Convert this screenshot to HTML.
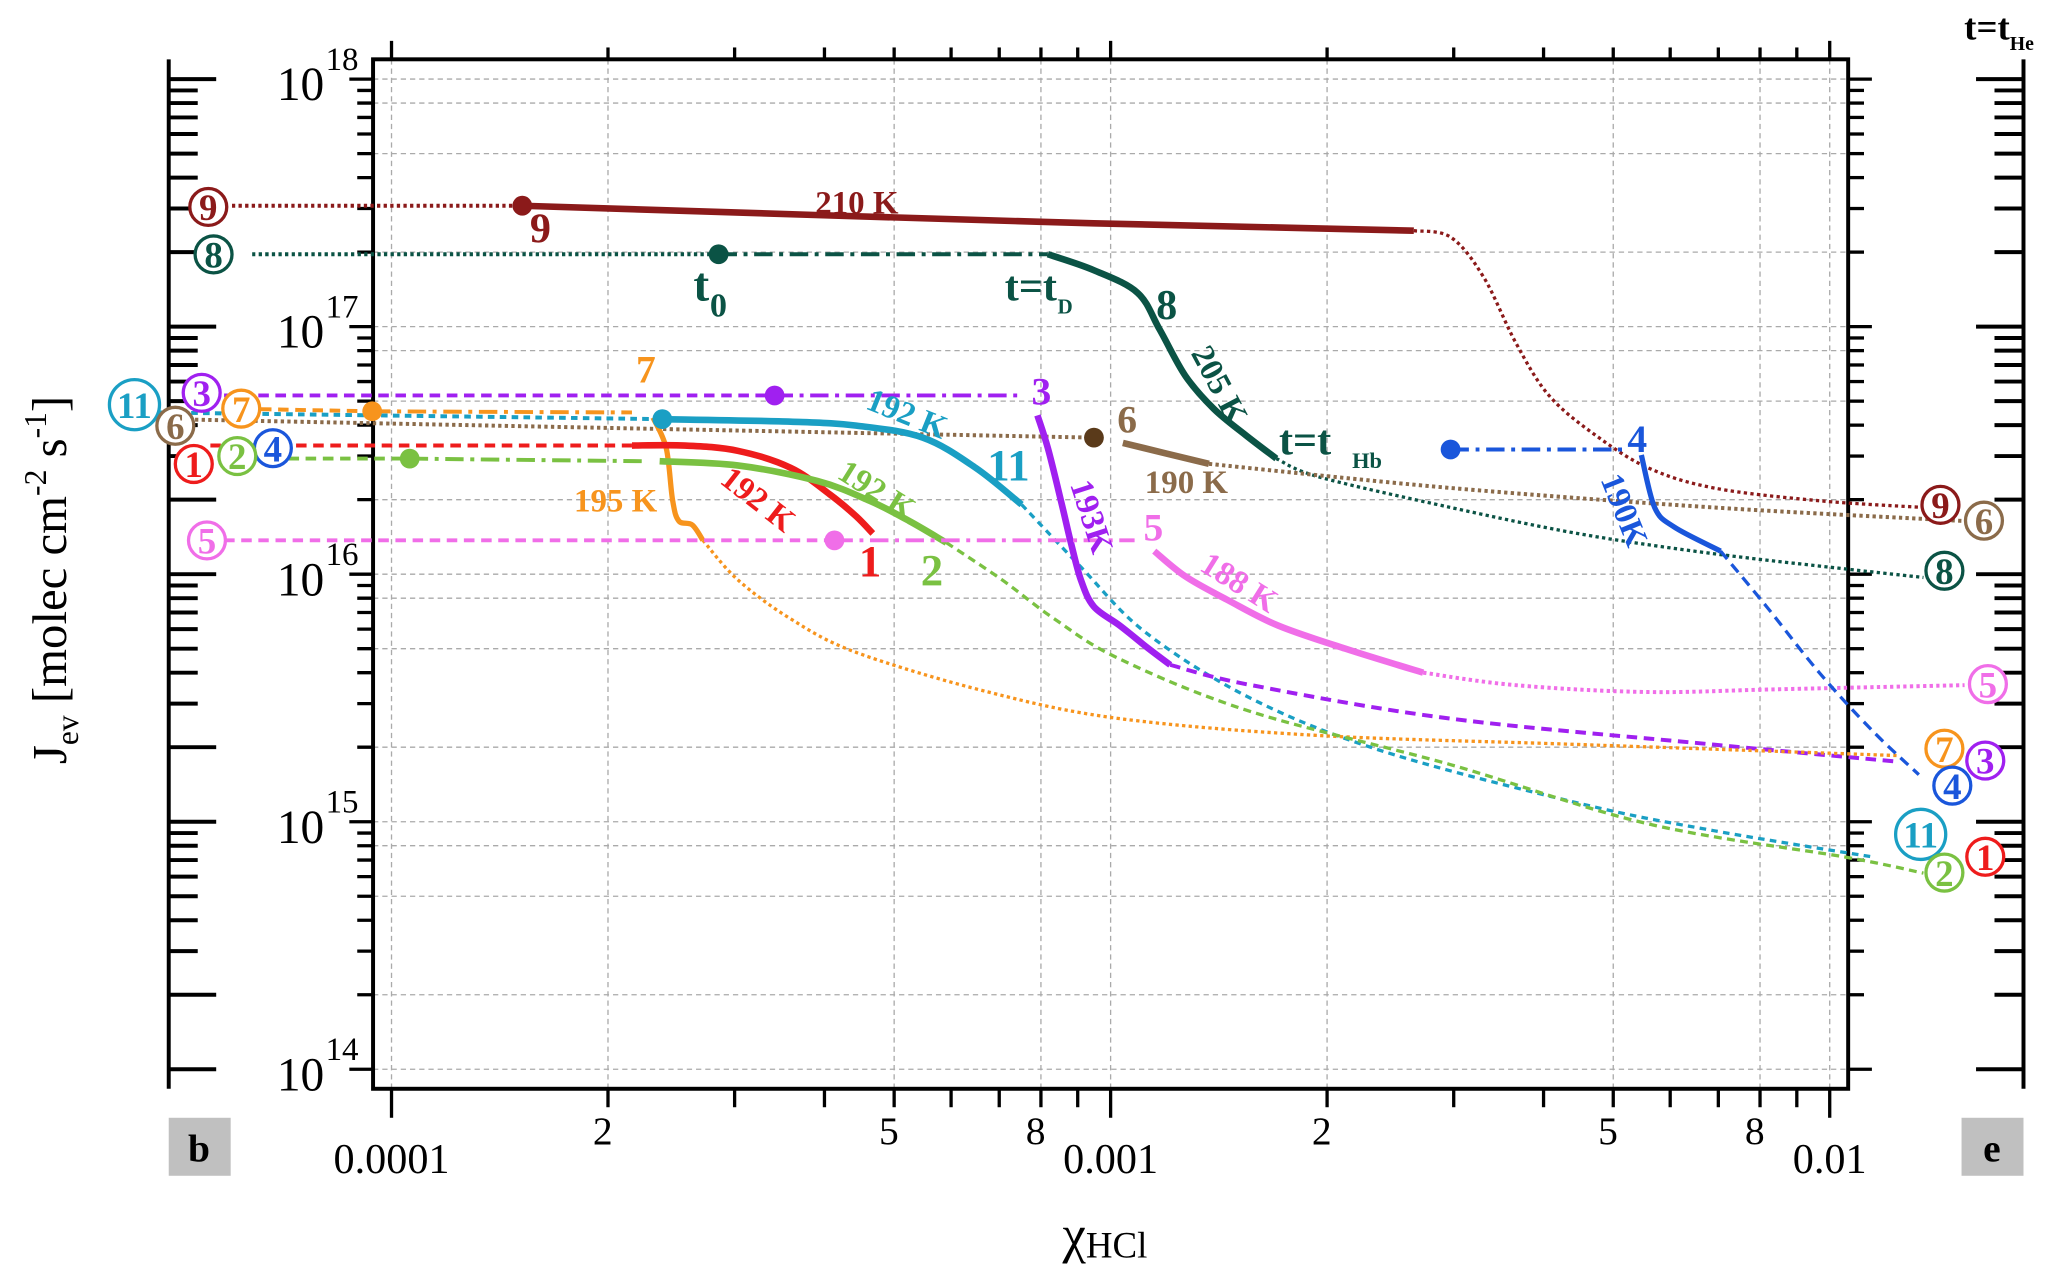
<!DOCTYPE html>
<html><head><meta charset="utf-8"><style>
html,body{margin:0;padding:0;background:#fff;}
svg{display:block;}
text{font-family:"Liberation Serif",serif;}
</style></head><body>
<svg id="chart" width="2067" height="1272" viewBox="0 0 1568 965" preserveAspectRatio="none" xmlns="http://www.w3.org/2000/svg">
<g id="grid"></g>
<g id="axes"></g>
<g id="series"></g>
<g id="ann"></g>
</svg>
<script>
// ---- data (x = mixing ratio chi_HCl, y = J_ev) ----
const c9LeadX=[6.0e-5,1.52e-4]; const c9LeadY=[3.08e17,3.08e17];
const c9SolidX=[1.52e-4,8e-4,2.64e-3]; const c9SolidY=[3.08e17,2.65e17,2.44e17];
const c9TailX=[2.64e-3,2.97e-3,3.30e-3,3.66e-3,4.07e-3,4.72e-3,5.59e-3,6.90e-3,9.67e-3,1.35e-2];
const c9TailY=[2.44e17,2.30e17,1.59e17,8.6e16,5.27e16,3.65e16,2.69e16,2.23e16,1.98e16,1.86e16];

const c8LeadX=[6.4e-5,2.85e-4]; const c8LeadY=[1.96e17,1.96e17];
const c8DashX=[2.85e-4,8.18e-4]; const c8DashY=[1.96e17,1.96e17];
const c8SolidX=[8.18e-4,9.48e-4,1.09e-3,1.17e-3,1.27e-3,1.39e-3,1.54e-3,1.70e-3];
const c8SolidY=[1.96e17,1.69e17,1.37e17,9.73e16,6.34e16,4.67e16,3.65e16,2.93e16];
const c8TailX=[1.70e-3,1.95e-3,2.97e-3,4.52e-3,6.90e-3,1.05e-2,1.35e-2];
const c8TailY=[2.93e16,2.47e16,1.86e16,1.45e16,1.21e16,1.05e16,9.7e15];

const c6LeadX=[4.9e-5,9.48e-4]; const c6LeadY=[4.23e16,3.56e16];
const c6SolidX=[1.04e-3,1.37e-3]; const c6SolidY=[3.39e16,2.79e16];
const c6TailX=[1.37e-3,2.97e-3,6.90e-3,1.54e-2]; const c6TailY=[2.79e16,2.23e16,1.86e16,1.64e16];

const c11LeadX=[4.7e-5,2.38e-4]; const c11LeadY=[4.5e16,4.23e16];
const c11SolidX=[2.38e-4,3.59e-4,4.43e-4,5.48e-4,6.49e-4,7.52e-4];
const c11SolidY=[4.23e16,4.13e16,3.98e16,3.56e16,2.69e16,1.91e16];
const c11TailX=[7.52e-4,9.09e-4,1.12e-3,1.57e-3,2.40e-3,4.52e-3,6.90e-3,1.15e-2];
const c11TailY=[1.91e16,1.07e16,5.8e15,3.14e15,1.92e15,1.18e15,9.2e14,7.2e14];

const c3LeadX=[5.85e-5,3.41e-4]; const c3LeadY=[5.27e16,5.27e16];
const c3DashX=[3.41e-4,7.52e-4]; const c3DashY=[5.27e16,5.27e16];
const c3SolidX=[7.91e-4,8.18e-4,8.53e-4,8.79e-4,9.09e-4,9.48e-4,1.03e-3,1.12e-3,1.21e-3];
const c3SolidY=[4.38e16,3.23e16,1.98e16,1.37e16,9.5e15,7.4e15,6.2e15,5.1e15,4.3e15];
const c3TailX=[1.21e-3,1.57e-3,2.97e-3,6.90e-3,1.24e-2]; const c3TailY=[4.3e15,3.56e15,2.61e15,2.05e15,1.75e15];

const c7LeadX=[5.9e-5,9.4e-5]; const c7LeadY=[4.67e16,4.55e16];
const c7DashX=[9.4e-5,2.16e-4]; const c7DashY=[4.55e16,4.5e16];
const c7SolidX=[2.31e-4,2.41e-4,2.46e-4,2.51e-4,2.62e-4,2.71e-4];
const c7SolidY=[4.29e16,3.23e16,1.98e16,1.64e16,1.58e16,1.37e16];
const c7TailX=[2.71e-4,3.03e-4,3.59e-4,4.43e-4,6.76e-4,1.03e-3,1.95e-3,4.52e-3,1.24e-2];
const c7TailY=[1.37e16,9.5e15,6.6e15,4.83e15,3.34e15,2.61e15,2.23e15,2.05e15,1.85e15];

const c1LeadX=[5.6e-5,2.16e-4]; const c1LeadY=[3.31e16,3.31e16];
const c1SolidX=[2.16e-4,2.56e-4,3.03e-4,3.59e-4,4.07e-4,4.43e-4,4.67e-4];
const c1SolidY=[3.31e16,3.31e16,3.15e16,2.69e16,2.10e16,1.71e16,1.46e16];

const c2LeadX=[6.1e-5,1.06e-4]; const c2LeadY=[2.93e16,2.93e16];
const c2DashX=[1.06e-4,2.26e-4]; const c2DashY=[2.93e16,2.86e16];
const c2SolidX=[2.36e-4,3.03e-4,3.91e-4,4.62e-4,5.25e-4,5.91e-4];
const c2SolidY=[2.86e16,2.75e16,2.38e16,1.98e16,1.64e16,1.34e16];
const c2TailX=[5.91e-4,7.06e-4,8.35e-4,1.03e-3,1.57e-3,2.97e-3,5.59e-3,1.05e-2,1.35e-2];
const c2TailY=[1.34e16,9.5e15,6.6e15,4.54e15,2.78e15,1.70e15,9.8e14,7.2e14,6.2e14];

const c5LeadX=[5.85e-5,4.13e-4]; const c5LeadY=[1.37e16,1.37e16];
const c5DashX=[4.13e-4,1.08e-3]; const c5DashY=[1.37e16,1.37e16];
const c5SolidX=[1.15e-3,1.27e-3,1.45e-3,1.71e-3,2.12e-3,2.72e-3];
const c5SolidY=[1.24e16,9.8e15,7.9e15,6.2e15,5.0e15,4.0e15];
const c5TailX=[2.72e-3,3.66e-3,5.59e-3,8.5e-3,1.54e-2]; const c5TailY=[4.0e15,3.56e15,3.34e15,3.43e15,3.56e15];

const c4DashX=[2.97e-3,5.24e-3]; const c4DashY=[3.19e16,3.19e16];
const c4SolidX=[5.47e-3,5.71e-3,6.08e-3,7.05e-3]; const c4SolidY=[3.03e16,1.86e16,1.55e16,1.24e16];
const c4TailX=[7.05e-3,8.17e-3,9.67e-3,1.15e-2,1.33e-2]; const c4TailY=[1.24e16,7.4e15,4.0e15,2.31e15,1.55e15];

const markerX=[1.52e-4,2.85e-4,9.48e-4,2.38e-4,3.41e-4,9.4e-5,1.06e-4,4.13e-4,2.97e-3];
const markerY=[3.08e17,1.96e17,3.56e16,4.23e16,5.27e16,4.55e16,2.93e16,1.37e16,3.19e16];

const xTickVals=[1e-4,2e-4,3e-4,4e-4,5e-4,6e-4,7e-4,8e-4,9e-4,1e-3,2e-3,3e-3,4e-3,5e-3,6e-3,7e-3,8e-3,9e-3,1e-2];
const xLabelVals=[1e-4,2e-4,5e-4,8e-4,1e-3,2e-3,5e-3,8e-3,1e-2];
const xLabelText=["0.0001","2","5","8","0.001","2","5","8","0.01"];
const yDecades=[14,15,16,17,18];

// ---- scales ----
const X=v=>297+(Math.log10(v)+4)*545.5;
const Y=v=>60+(18-Math.log10(v))*187.8;
const FL=283,FR=1402,FT=45,FB=826;
const NS="http://www.w3.org/2000/svg";
function mk(tag,attrs,parent){const e=document.createElementNS(NS,tag);for(const k in attrs)e.setAttribute(k,attrs[k]);parent.appendChild(e);return e;}
const grid=document.getElementById('grid'),axes=document.getElementById('axes'),ser=document.getElementById('series'),ann=document.getElementById('ann');

// grid
[1e-4,2e-4,5e-4,8e-4,1e-3,2e-3,5e-3,8e-3,1e-2].forEach(v=>{
  const l=mk('line',{x1:X(v),x2:X(v),y1:FT,y2:FB,stroke:'#aaa','stroke-width':1,'stroke-dasharray':'4 3'},grid);
  
  
});
yDecades.forEach(d=>{[1,2,5,8].forEach(m=>{const v=m*Math.pow(10,d);if(v>1.01e18)return;
  const l=mk('line',{x1:FL,x2:FR,y1:Y(v),y2:Y(v),stroke:'#aaa','stroke-width':1,'stroke-dasharray':'4 3'},grid);
  
  
});});

// frame
const fr=mk('rect',{x:FL,y:FT,width:FR-FL,height:FB-FT,fill:'none',stroke:'#000','stroke-width':3},axes);


xTickVals.forEach(v=>{const maj=Math.abs(Math.log10(v)-Math.round(Math.log10(v)))<1e-6;
  const t=mk('line',{x1:X(v),x2:X(v),y1:FB,y2:FB+(maj?22:14),stroke:'#000','stroke-width':2.5},axes);
  
  
  const t2=mk('line',{x1:X(v),x2:X(v),y1:FT,y2:FT-(maj?14:9),stroke:'#000','stroke-width':2.5},axes);
  
  
});
xLabelVals.forEach((v,i)=>{const maj=xLabelText[i].length>1;
  const t=mk('text',{x:X(v)+(maj?0:-4),y:maj?890:868,'font-size':maj?32:30,'text-anchor':'middle'},axes);
  t.textContent=xLabelText[i];
  
  
});
const LA=128,RA=1535;
yDecades.forEach(d=>{for(let m=1;m<=9;m++){const v=m*Math.pow(10,d);if(v>1.01e18)break;const maj=m===1;
  const a=mk('line',{x1:FL,x2:FL-(maj?18:12),y1:Y(v),y2:Y(v),stroke:'#000','stroke-width':2.5},axes);
  
  
  const b=mk('line',{x1:FR,x2:FR+(maj?18:12),y1:Y(v),y2:Y(v),stroke:'#000','stroke-width':2.5},axes);
  
  
  const c=mk('line',{x1:LA,x2:LA+(maj||m===2||m===3&&d===17?36:22),y1:Y(v),y2:Y(v),stroke:'#000','stroke-width':3},axes);
  
  
  const e=mk('line',{x1:RA,x2:RA-(maj?36:22),y1:Y(v),y2:Y(v),stroke:'#000','stroke-width':3},axes);
  
  
}});
yDecades.forEach(d=>{
  const t=mk('text',{x:246,y:Y(Math.pow(10,d))+16,'font-size':36,'text-anchor':'end'},axes);
  t.textContent='10';
  
  
  const s=mk('text',{x:247,y:Y(Math.pow(10,d))-7,'font-size':25,'text-anchor':'start'},axes);
  s.textContent=String(d);
  
  
});
const la=mk('line',{x1:LA,x2:LA,y1:45,y2:826,stroke:'#000','stroke-width':3},axes);


const ra=mk('line',{x1:RA,x2:RA,y1:45,y2:826,stroke:'#000','stroke-width':3},axes);



// series
function path(xs,ys,color,w,dash,name){
  const pts=xs.map((x,i)=>[X(x),Y(ys[i])]);
  let d='M'+pts[0][0].toFixed(1)+' '+pts[0][1].toFixed(1);
  for(let i=1;i<pts.length;i++){
    const p0=pts[Math.max(0,i-2)],p1=pts[i-1],p2=pts[i],p3=pts[Math.min(pts.length-1,i+1)];
    const c1x=p1[0]+(p2[0]-p0[0])/6,c1y=p1[1]+(p2[1]-p0[1])/6,c2x=p2[0]-(p3[0]-p1[0])/6,c2y=p2[1]-(p3[1]-p1[1])/6;
    d+=' C'+c1x.toFixed(1)+' '+c1y.toFixed(1)+' '+c2x.toFixed(1)+' '+c2y.toFixed(1)+' '+p2[0].toFixed(1)+' '+p2[1].toFixed(1);
  }
  const p=mk('path',{d:d,fill:'none',stroke:color,'stroke-width':w,'stroke-linecap':'butt','stroke-linejoin':'round'},ser);
  if(dash)p.setAttribute('stroke-dasharray',dash);
  
  
}
const DOT='2.5 2.5',DASH='8 5',DD='14 5 3 5';
const C={9:'#8b1a1a',8:'#0b5345',6:'#8b6b4a',11:'#1a9fc4',3:'#a020f0',7:'#f7941d',1:'#ee1c1c',2:'#7ac142',5:'#f06ee8',4:'#1a56db'};
path(c9LeadX,c9LeadY,C[9],3,DOT,'curve-9-lead');path(c9SolidX,c9SolidY,C[9],5,null,'curve-9');path(c9TailX,c9TailY,C[9],2.5,DOT,'curve-9-tail');
path(c8LeadX,c8LeadY,C[8],3,DOT,'curve-8-lead');path(c8DashX,c8DashY,C[8],3,DD,'curve-8-dashdot');path(c8SolidX,c8SolidY,C[8],5,null,'curve-8');path(c8TailX,c8TailY,C[8],2.5,DOT,'curve-8-tail');
path(c6LeadX,c6LeadY,C[6],3,DOT,'curve-6-lead');path(c6SolidX,c6SolidY,C[6],5,null,'curve-6');path(c6TailX,c6TailY,C[6],3,DOT,'curve-6-tail');
path(c11LeadX,c11LeadY,C[11],3,'5 4','curve-11-lead');path(c11SolidX,c11SolidY,C[11],5,null,'curve-11');path(c11TailX,c11TailY,C[11],2.5,'5 4','curve-11-tail');
path(c3LeadX,c3LeadY,C[3],3,DASH,'curve-3-lead');path(c3DashX,c3DashY,C[3],3,DD,'curve-3-dashdot');path(c3SolidX,c3SolidY,C[3],5,null,'curve-3');path(c3TailX,c3TailY,C[3],3,DASH,'curve-3-tail');
path(c7LeadX,c7LeadY,C[7],3,DASH,'curve-7-lead');path(c7DashX,c7DashY,C[7],3,DD,'curve-7-dashdot');path(c7SolidX,c7SolidY,C[7],4,null,'curve-7');path(c7TailX,c7TailY,C[7],2.5,DOT,'curve-7-tail');
path(c1LeadX,c1LeadY,C[1],3,DASH,'curve-1-lead');path(c1SolidX,c1SolidY,C[1],5,null,'curve-1');
path(c2LeadX,c2LeadY,C[2],3,DASH,'curve-2-lead');path(c2DashX,c2DashY,C[2],3,DD,'curve-2-dashdot');path(c2SolidX,c2SolidY,C[2],5,null,'curve-2');path(c2TailX,c2TailY,C[2],2.5,'6 4','curve-2-tail');
path(c5LeadX,c5LeadY,C[5],3,DASH,'curve-5-lead');path(c5DashX,c5DashY,C[5],3,DD,'curve-5-dashdot');path(c5SolidX,c5SolidY,C[5],5,null,'curve-5');path(c5TailX,c5TailY,C[5],3,DOT,'curve-5-tail');
path(c4DashX,c4DashY,C[4],3,DD,'curve-4-dashdot');path(c4SolidX,c4SolidY,C[4],4,null,'curve-4');path(c4TailX,c4TailY,C[4],2.5,DASH,'curve-4-tail');
const mc=[C[9],C[8],'#5a3a1a',C[11],C[3],C[7],C[2],C[5],C[4]];
markerX.forEach((x,i)=>{const c=mk('circle',{cx:X(x),cy:Y(markerY[i]),r:7.5,fill:mc[i]},ser);
  
  });

// circled labels
const circ=[[9,158,157],[8,162,193],[11,102,307],[3,153,298],[7,183,310],[6,133,323],[4,207,340],[1,147,352],[2,180,346],[5,157,410],
 [9,1472,383],[6,1505,395],[8,1475,433],[5,1508,519],[7,1475,568],[3,1506,577],[4,1481,596],[11,1457,633],[1,1506,650],[2,1475,662]];
circ.forEach(c=>{const col=C[c[0]];const r=c[0]===11?19:14;
  const g=mk('g',{},ann);
  
  
  mk('circle',{cx:c[1],cy:c[2],r:r,fill:'#fff',stroke:col,'stroke-width':2.5},g);
  const t=mk('text',{x:c[1],y:c[2]+10,'font-size':28,'font-weight':'bold','text-anchor':'middle',fill:col},g);
  t.textContent=String(c[0]);
});
// text labels [text,x,y,color,size,rot]
const labs=[['210 K',650,162,C[9],25,0],['9',410,184,C[9],32,0],['t',532,228,C[8],36,0],['t=t',782,228,C[8],32,0],['8',885,242,C[8],32,0],
 ['205 K',925,300,C[8],25,62],['6',855,328,C[6],30,0],['190 K',900,374,C[6],25,0],['4',1242,343,C[4],30,0],['190K',1232,395,C[4],25,68],
 ['7',490,290,C[7],30,0],['192 K',688,322,C[11],25,22],['11',765,364,C[11],34,0],['3',790,307,C[3],30,0],['193K',828,400,C[3],25,72],
 ['5',875,410,C[5],30,0],['188 K',940,450,C[5],25,32],['195 K',467,388,C[7],25,0],['192 K',575,387,C[1],25,38],['192 K',665,380,C[2],25,32],
 ['1',660,437,C[1],34,0],['2',707,444,C[2],34,0]];
labs.forEach(l=>{const t=mk('text',{x:l[1],y:l[2],'font-size':l[4],'font-weight':'bold','text-anchor':'middle',fill:l[3]},ann);
  if(l[5])t.setAttribute('transform','rotate('+l[5]+' '+l[1]+' '+(l[2]-8)+')');
  t.textContent=l[0];
  
  });
const subs=[['0',545,240,C[8],26],['D',808,238,C[8],16],['t=t',990,345,C[8],32],['Hb',1037,355,C[8],17]];
subs.forEach(l=>{const t=mk('text',{x:l[1],y:l[2],'font-size':l[4],'font-weight':'bold','text-anchor':'middle',fill:l[3]},ann);
  t.textContent=l[0];
  
  });
</script>
<svg style="position:absolute;left:0;top:0" width="2067" height="1272" viewBox="0 0 1568 965" preserveAspectRatio="none" xmlns="http://www.w3.org/2000/svg">
<text x="1490" y="30" font-size="28" font-weight="bold" font-family="Liberation Serif">t=t<tspan font-size="15" dy="8">He</tspan></text>
<rect x="128" y="848" width="47" height="44" fill="#c0c0c0"/>
<text x="151" y="881" font-size="30" font-weight="bold" text-anchor="middle" font-family="Liberation Serif">b</text>
<rect x="1488" y="848" width="47" height="44" fill="#c0c0c0"/>
<text x="1511" y="881" font-size="30" font-weight="bold" text-anchor="middle" font-family="Liberation Serif">e</text>
<text x="806" y="950" font-size="40" font-family="Liberation Serif">χ<tspan font-size="28" dy="4">HCl</tspan></text>
<text transform="translate(50 440) rotate(-90)" font-size="37" text-anchor="middle" font-family="Liberation Serif">J<tspan font-size="24" dy="9">ev</tspan><tspan dy="-9"> [molec cm</tspan><tspan font-size="24" dy="-15">-2</tspan><tspan dy="15"> s</tspan><tspan font-size="24" dy="-15">-1</tspan><tspan dy="15">]</tspan></text>
</svg>
</body></html>
